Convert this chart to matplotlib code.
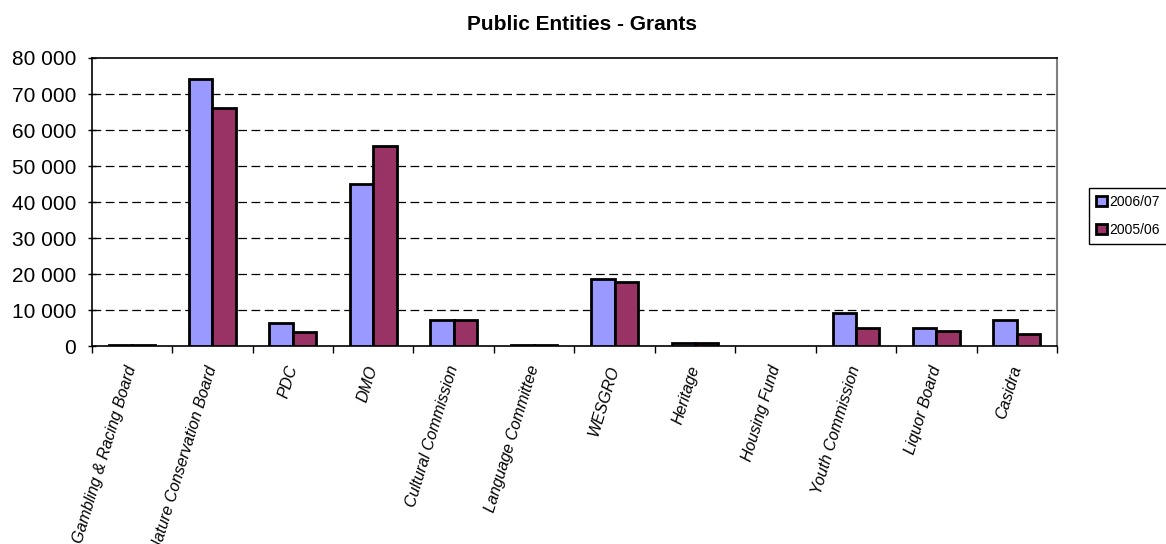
import numpy as np
import matplotlib
matplotlib.use("Agg")
import matplotlib.pyplot as plt
from matplotlib.ticker import FuncFormatter, FixedLocator

plt.rcParams["font.family"] = ["Liberation Sans", "DejaVu Sans"]

# Data (R'000)
entities = ["Gambling & Racing Board", "Nature Conservation Board", "PDC", "DMO",
            "Cultural Commission", "Language Committee", "WESGRO", "Heritage",
            "Housing Fund", "Youth Commission", "Liquor Board", "Casidra"]
grants_2006 = [300, 74100, 6500, 45000, 7400, 300, 18800, 1100, 0, 9200, 5000, 7400]
grants_2005 = [300, 66000, 4000, 55500, 7400, 300, 18000, 1000, 0, 5000, 4200, 3500]
series_labels = ["2006/07", "2005/06"]

fig = plt.figure(figsize=(11.66, 5.44), dpi=100)
ax = fig.add_axes([0.0786, 0.3631, 0.9065 - 0.0786, 0.8934 - 0.3631])

x = np.arange(len(entities))
w = 0.29
lw06 = [0 if v == 0 else 2 for v in grants_2006]
lw05 = [0 if v == 0 else 2 for v in grants_2005]
ax.bar(x - w / 2, grants_2006, w, color="#9999FF", edgecolor="black",
       linewidth=lw06, label=series_labels[0], zorder=3)
ax.bar(x + w / 2, grants_2005, w, color="#993366", edgecolor="black",
       linewidth=lw05, label=series_labels[1], zorder=3)

ax.set_xlim(-0.5, len(entities) - 0.5)
ax.set_ylim(0, 80000)
ax.set_yticks(np.arange(0, 80001, 10000))
ax.yaxis.set_major_formatter(FuncFormatter(lambda v, p: f"{int(v):,}".replace(",", " ")))
ax.tick_params(axis="y", direction="inout", length=6, width=1, pad=8, labelsize=15)

ax.set_xticks(x)
ax.set_xticklabels(entities, rotation=73, ha="right", va="center",
                   rotation_mode="anchor", fontsize=11.5, style="italic")
ax.tick_params(axis="x", which="major", length=0, pad=14)
ax.xaxis.set_minor_locator(FixedLocator(np.arange(-0.5, len(entities), 1.0)))
ax.tick_params(axis="x", which="minor", direction="out", length=5, width=1)

for yv in range(10000, 80000, 10000):
    ax.axhline(yv, color="black", linewidth=0.9, linestyle=(0, (7, 3.6)), zorder=1)

for s in ["left", "bottom", "top"]:
    ax.spines[s].set_color("black")
    ax.spines[s].set_linewidth(1.2)
ax.spines["right"].set_color("#808080")
ax.spines["right"].set_linewidth(1.5)

leg = ax.legend(loc="upper left", bbox_to_anchor=(1089 / 1166, 1 - 188 / 544),
                bbox_transform=fig.transFigure, borderaxespad=0, fontsize=10,
                handlelength=0.8, handleheight=0.8, handletextpad=0.15,
                labelspacing=1.0, borderpad=0.5, fancybox=False, framealpha=1)
leg.get_frame().set_edgecolor("black")
leg.get_frame().set_linewidth(1)

fig.text(582 / 1166, 1 - 24 / 544, "Public Entities - Grants", ha="center", va="center",
         fontsize=15, fontweight="bold")

fig.savefig("out.png", dpi=100)
